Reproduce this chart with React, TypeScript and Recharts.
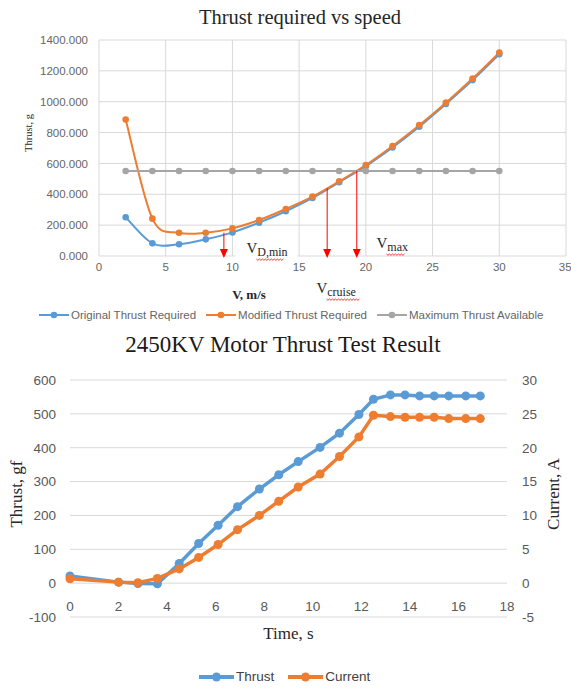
import { LineChart, Line, XAxis, YAxis, CartesianGrid, Legend, ReferenceLine } from 'recharts'

const SANS = '"Liberation Sans", Arial, sans-serif'
const SERIF = '"Liberation Serif", "Times New Roman", serif'
const BLUE = '#5B9BD5'
const ORANGE = '#ED7D31'
const GRAY = '#A5A5A5'
const GRID = '#D9D9D9'

// Thrust required vs speed
const speeds = [2, 4, 6, 8, 10, 12, 14, 16, 18, 20, 22, 24, 26, 28, 30]
const originalThrust = [251, 82, 76, 108, 153, 216, 290, 376, 478, 582, 703, 838, 985, 1140, 1308]
const modifiedThrust = [884, 242, 151, 151, 179, 233, 305, 385, 484, 590, 713, 848, 994, 1150, 1318]
const maxThrust = [551, 551, 551, 551, 551, 551, 551, 551, 551, 551, 551, 551, 551, 551, 551]
const speedTicks = [0, 5, 10, 15, 20, 25, 30, 35]
const thrustTicks = [0, 200, 400, 600, 800, 1000, 1200, 1400]
const speedSeries = ['Original Thrust Required', 'Modified Thrust Required', 'Maximum Thrust Available']

// red arrows marking the characteristic speeds
const arrowSpeed = [9.36, 17.1, 19.32]
const arrowTop = [151, 439, 553]
const arrowSub = ['D,min', 'cruise', 'max']

// 2450KV motor thrust test
const time = [0, 2.0, 2.8, 3.6, 4.5, 5.3, 6.1, 6.9, 7.8, 8.6, 9.4, 10.3, 11.1, 11.9, 12.5, 13.2, 13.8, 14.4, 15.0, 15.6, 16.3, 16.9]
const thrust = [21, 3, -1, -2, 58, 117, 171, 226, 278, 320, 359, 401, 443, 498, 543, 556, 556, 553, 553, 553, 553, 553]
const current = [0.65, 0.15, 0.05, 0.7, 2.1, 3.8, 5.7, 7.9, 10.0, 12.1, 14.2, 16.1, 18.7, 21.6, 24.8, 24.6, 24.5, 24.5, 24.5, 24.3, 24.3, 24.3]
const timeTicks = [0, 2, 4, 6, 8, 10, 12, 14, 16, 18]
const gfTicks = [-100, 0, 100, 200, 300, 400, 500, 600]
const ampTicks = [-5, 0, 5, 10, 15, 20, 25, 30]
const testSeries = ['Thrust', 'Current']

const speedData = speeds.map((v, i) => ({
  v,
  original: originalThrust[i],
  modified: modifiedThrust[i],
  available: maxThrust[i],
}))
const testData = time.map((t, i) => ({ t, thrust: thrust[i], current: current[i] }))

// label offsets relative to each arrow tip
const labelOffset = [
  { dx: 22.5, dy: -3, box: true },
  { dx: -10.7, dy: 37, box: false },
  { dx: 19.7, dy: -8, box: false },
]

/** Catmull-Rom style smoothing, close to Excel's "smoothed line" */
const excelSmooth = (context: any) => {
  let pts: number[][] = []
  return {
    areaStart() {},
    areaEnd() {},
    lineStart() {
      pts = []
    },
    point(x: number, y: number) {
      pts.push([x, y])
    },
    lineEnd() {
      if (!pts.length) return
      context.moveTo(pts[0][0], pts[0][1])
      for (let i = 0; i < pts.length - 1; i++) {
        const p0 = pts[Math.max(i - 1, 0)]
        const p1 = pts[i]
        const p2 = pts[i + 1]
        const p3 = pts[Math.min(i + 2, pts.length - 1)]
        context.bezierCurveTo(
          p1[0] + (p2[0] - p0[0]) / 6,
          p1[1] + (p2[1] - p0[1]) / 6,
          p2[0] - (p3[0] - p1[0]) / 6,
          p2[1] - (p3[1] - p1[1]) / 6,
          p2[0],
          p2[1],
        )
      }
    },
  }
}

const wavy = (x: number, y: number, w: number) => {
  let d = `M${x},${y}`
  for (let i = 0; i < w; i += 3) d += 'l1.5,1.3l1.5,-1.3'
  return d
}

function ArrowMark({ x1, y1, x2, y2, idx }: any) {
  const off = labelOffset[idx]
  const lx = x2 + off.dx
  const ly = y2 + off.dy
  const subW = arrowSub[idx].length * 5.4
  return (
    <g>
      {off.box && <rect x={lx - 11} y={ly - 14} width={62} height={23} fill="#fff" />}
      <line x1={x1} y1={y1} x2={x2} y2={y2 - 6} stroke="#FF0000" strokeWidth={1} />
      <path d={`M${x2 - 4},${y2 - 7}L${x2 + 4},${y2 - 7}L${x2},${y2 + 2}Z`} fill="#FF0000" />
      <text x={lx} y={ly} fontFamily={SERIF} fill="#262626">
        <tspan fontSize={15}>V</tspan>
        <tspan fontSize={12} dy={3}>{arrowSub[idx]}</tspan>
      </text>
      <path d={wavy(lx + 10, ly + 6, subW)} stroke="#FF0000" fill="none" strokeWidth={0.8} />
    </g>
  )
}

const axisTitle =
  (text: string, dx: number, dy: number, angle: number, style: any) =>
  ({ viewBox }: any) => {
    const cx = viewBox.x + viewBox.width / 2 + dx
    const cy = viewBox.y + viewBox.height / 2 + dy
    return (
      <text
        x={cx}
        y={cy}
        transform={angle ? `rotate(${angle} ${cx} ${cy})` : undefined}
        textAnchor="middle"
        dominantBaseline="central"
        style={style}
      >
        {text}
      </text>
    )
  }

function SeriesLegend(props: any) {
  const { payload = [], order, fontSize, iconWidth, lineWidth, dotR, gap, color } = props
  const items = [...payload].sort((a: any, b: any) => order.indexOf(a.value) - order.indexOf(b.value))
  return (
    <div style={{ display: 'flex', alignItems: 'center', gap, fontFamily: SANS, fontSize, color, whiteSpace: 'nowrap' }}>
      {items.map((p: any) => (
        <span key={p.value} style={{ display: 'inline-flex', alignItems: 'center', gap: 2 }}>
          <svg width={iconWidth} height={12}>
            <line x1={0} y1={6} x2={iconWidth} y2={6} stroke={p.color} strokeWidth={lineWidth} />
            <circle cx={iconWidth / 2} cy={6} r={dotR} fill={p.color} />
          </svg>
          {p.value}
        </span>
      ))}
    </div>
  )
}

function TimeTick({ x, y, payload }: any) {
  return (
    <text x={x} y={y} dy={-12} textAnchor="middle" fill="#595959" fontFamily={SANS} fontSize={13.5}>
      {payload.value}
    </text>
  )
}

export default function App() {
  const topTick = { fill: '#666', fontSize: 11.5, fontFamily: SANS }
  const botTick = { fill: '#595959', fontSize: 13.5, fontFamily: SANS }
  return (
    <div style={{ position: 'absolute', left: 0, top: 0, width: 571, height: 688, background: '#fff', overflow: 'hidden' }}>
      <div style={{ position: 'absolute', left: 0, top: 0 }}>
        <LineChart width={571} height={330} data={speedData} margin={{ top: 40, right: 5, bottom: 50, left: 0 }}>
          <CartesianGrid stroke={GRID} />
          <XAxis
            dataKey="v"
            type="number"
            domain={[0, 35]}
            ticks={speedTicks}
            axisLine={false}
            tickLine={false}
            tickMargin={1}
            height={24}
            tick={topTick}
            label={{ content: axisTitle('V, m/s', -83.5, 26, 0, { fontFamily: SERIF, fontSize: 13, fontWeight: 'bold', fill: '#262626' }) }}
          />
          <YAxis
            type="number"
            domain={[0, 1400]}
            ticks={thrustTicks}
            axisLine={false}
            tickLine={false}
            tickMargin={5}
            width={99}
            tick={topTick}
            tickFormatter={(v: number) => v.toFixed(3)}
            label={{ content: axisTitle('Thrust, g', -21.5, -15, -90, { fontFamily: SERIF, fontSize: 10.5, fill: '#262626' }) }}
          />
          <Line
            dataKey="original"
            name={speedSeries[0]}
            type={excelSmooth as any}
            stroke={BLUE}
            strokeWidth={2}
            dot={{ r: 3.3, fill: BLUE, stroke: BLUE, strokeWidth: 0 }}
            isAnimationActive={false}
          />
          <Line
            dataKey="modified"
            name={speedSeries[1]}
            type={excelSmooth as any}
            stroke={ORANGE}
            strokeWidth={2}
            dot={{ r: 3.3, fill: ORANGE, stroke: ORANGE, strokeWidth: 0 }}
            isAnimationActive={false}
          />
          <Line
            dataKey="available"
            name={speedSeries[2]}
            type="linear"
            stroke={GRAY}
            strokeWidth={2}
            dot={{ r: 3.3, fill: GRAY, stroke: GRAY, strokeWidth: 0 }}
            isAnimationActive={false}
          />
          {arrowSpeed.map((s, i) => (
            <ReferenceLine
              key={i}
              segment={[
                { x: s, y: arrowTop[i] },
                { x: s, y: 0 },
              ]}
              shape={(p: any) => <ArrowMark {...p} idx={i} />}
            />
          ))}
          <Legend
            verticalAlign="middle"
            align="center"
            layout="horizontal"
            wrapperStyle={{ top: 309, left: 39, width: 'auto' }}
            content={
              <SeriesLegend order={speedSeries} fontSize={11.5} iconWidth={30} lineWidth={2} dotR={3.3} gap={10} color="#666" />
            }
          />
        </LineChart>
      </div>
      <div
        style={{
          position: 'absolute',
          left: 0,
          top: 5,
          width: 600,
          textAlign: 'center',
          fontFamily: SERIF,
          fontSize: 20.5,
          lineHeight: '24px',
          color: '#262626',
        }}
      >
        Thrust required vs speed
      </div>

      <div style={{ position: 'absolute', left: 0, top: 330 }}>
        <LineChart width={571} height={358} data={testData} margin={{ top: 50, right: 0, bottom: 41, left: 0 }}>
          <CartesianGrid yAxisId="left" stroke={GRID} vertical={false} />
          <XAxis
            dataKey="t"
            type="number"
            domain={[0, 18]}
            ticks={timeTicks}
            axisLine={false}
            tickLine={false}
            tickMargin={0}
            height={30}
            tick={<TimeTick />}
            label={{ content: axisTitle('Time, s', 0, 1, 0, { fontFamily: SERIF, fontSize: 17, fill: '#262626' }) }}
          />
          <YAxis
            yAxisId="left"
            type="number"
            domain={[-100, 600]}
            ticks={gfTicks}
            axisLine={false}
            tickLine={false}
            tickMargin={8}
            width={70}
            tick={botTick}
            label={{ content: axisTitle('Thrust, gf', -19, -4.5, -90, { fontFamily: SERIF, fontSize: 17, fill: '#262626' }) }}
          />
          <YAxis
            yAxisId="right"
            orientation="right"
            type="number"
            domain={[-5, 30]}
            ticks={ampTicks}
            axisLine={false}
            tickLine={false}
            tickMargin={9}
            width={64}
            tick={botTick}
            label={{ content: axisTitle('Current, A', 14, -4.5, -90, { fontFamily: SERIF, fontSize: 17, fill: '#262626' }) }}
          />
          <Line
            yAxisId="left"
            dataKey="thrust"
            name={testSeries[0]}
            type="linear"
            stroke={BLUE}
            strokeWidth={3.5}
            dot={{ r: 4.5, fill: BLUE, stroke: BLUE, strokeWidth: 0 }}
            isAnimationActive={false}
          />
          <Line
            yAxisId="right"
            dataKey="current"
            name={testSeries[1]}
            type="linear"
            stroke={ORANGE}
            strokeWidth={3.5}
            dot={{ r: 4.5, fill: ORANGE, stroke: ORANGE, strokeWidth: 0 }}
            isAnimationActive={false}
          />
          <Legend
            verticalAlign="middle"
            align="center"
            layout="horizontal"
            wrapperStyle={{ top: 339, left: 199, width: 'auto' }}
            content={
              <SeriesLegend order={testSeries} fontSize={13.5} iconWidth={35} lineWidth={4} dotR={4.5} gap={14} color="#404040" />
            }
          />
        </LineChart>
      </div>
      <div
        style={{
          position: 'absolute',
          left: 0,
          top: 331,
          width: 566,
          textAlign: 'center',
          fontFamily: SERIF,
          fontSize: 23,
          lineHeight: '28px',
          color: '#1a1a1a',
        }}
      >
        2450KV Motor Thrust Test Result
      </div>
    </div>
  )
}
